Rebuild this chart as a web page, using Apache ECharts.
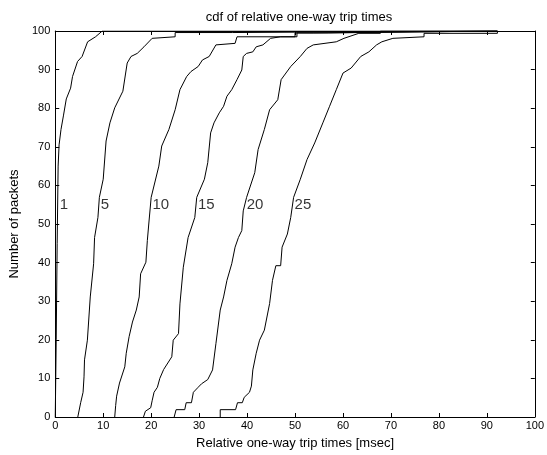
<!DOCTYPE html>
<html>
<head>
<meta charset="utf-8">
<script src="https://cdn.jsdelivr.net/npm/echarts@6/dist/echarts.min.js"></script>
<style>
  html, body { margin: 0; padding: 0; background: #fff; }
  #chart { width: 547px; height: 455px; }
</style>
</head>
<body>
<div id="chart"></div>
<script>
// 读图得到的各条 cdf 曲线 [时间 msec, 百分比]
const curve1 = [[0,0],[0.2,20],[0.4,45],[0.6,65],[0.8,70.5],[1.2,74.5],[1.7,78],[2.3,82.4],[3.2,85.2],[3.6,88.2],[4.65,92.1],[5.6,93.4],[6.75,97.2],[8.4,98.5],[9.8,100],[92.2,100]]
const curve5 = [[4.7,0],[5.3,3.7],[5.8,6.4],[6.0,10.4],[6.1,14.8],[6.7,19.9],[7.3,31.1],[8.0,39.7],[8.2,46.5],[8.9,51.7],[9.2,56.9],[10.0,61.6],[10.6,71.5],[11.4,76.2],[12.4,80.1],[14.1,84.4],[15.0,91.7],[15.8,93.4],[17.1,94.2],[18.5,95.9],[20.2,98.1],[20.5,98.5],[25,98.5],[25,99.6],[36.9,99.6],[36.9,100],[92.2,100]]
const curve10 = [[12.4,0],[12.6,3],[12.8,5.4],[13.4,8.8],[14.5,13.0],[14.8,16.5],[15.4,20.8],[16.1,24.6],[16.9,27.7],[17.5,31.1],[17.8,37.1],[18.9,40.1],[19.2,45.7],[19.5,50.0],[20.0,56.9],[21.6,65.0],[22.2,70.2],[23.7,74.5],[25.0,79.6],[26.0,84.8],[27.4,88.2],[28.3,89.5],[29.8,90.8],[30.7,92.5],[32.1,93.4],[33.5,96.4],[37.5,96.8],[37.9,98.5],[50.4,98.5],[50.4,99.5],[53.8,99.5],[53.8,100],[92.2,100]]
const curve15 = [[18.4,0],[18.8,1.5],[19.9,2.4],[20.2,4.2],[20.6,6.4],[21.3,7.7],[21.8,10],[22.6,12.3],[24.3,15.6],[24.6,19.9],[25.7,21.6],[26.0,29.3],[26.7,38.8],[27.7,46.5],[29.1,51.7],[29.5,56.9],[31.1,61.6],[31.8,65.9],[32.4,73.6],[33.1,76.2],[34.2,78.8],[35.1,80.5],[35.8,83.1],[36.8,84.8],[37.9,87.4],[38.9,89.9],[39.2,93.4],[39.9,94.2],[41.2,94.6],[41.9,95.9],[43.3,96.4],[44.9,98.1],[47.0,98.5],[50,98.5],[50,99.5],[56.9,99.5],[56.9,100],[92.2,100]]
const curve20 = [[24.8,0],[25.2,1.9],[27.0,1.9],[27.3,3.7],[28.4,3.7],[28.8,6.4],[29.8,7.7],[30.5,8.6],[31.8,9.7],[32.8,12.2],[33.5,19.0],[34.4,27.7],[35.1,31.1],[35.8,35.4],[36.8,39.7],[37.5,44.0],[38.2,46.5],[38.9,48.3],[39.2,53.4],[39.9,56.9],[41.6,63.3],[42.3,69.3],[43.6,74.5],[44.7,79.6],[46.4,82.2],[47.1,87.4],[49.1,90.8],[51.1,93.4],[52.5,95.5],[53.8,96.4],[58.6,97.2],[60.2,98.1],[63.3,99.4],[67.8,99.4],[67.8,100],[92.2,100]]
const curve25 = [[34.4,0],[34.4,1.9],[37.6,1.9],[38,3.7],[39,3.7],[39.4,5.1],[40.5,6.4],[40.9,8],[41.2,12.2],[41.9,16.5],[42.6,19.9],[43.6,22.5],[44.7,29.4],[45.3,35.4],[46.0,39.2],[47.0,39.2],[47.3,44.0],[48.4,47.4],[49.1,51.7],[49.7,56.9],[51.1,61.6],[52.5,66.7],[54.1,71.0],[55.8,76.2],[57.2,80.5],[58.6,84.8],[60.0,89.1],[61.7,90.4],[63.7,93.4],[65.4,94.6],[67,96.4],[68.1,97.2],[70.4,98.1],[76.9,98.5],[76.9,99.4],[92.2,99.4],[92.2,100]]

const curves = [curve1, curve5, curve10, curve15, curve20, curve25]
const curveNames = ['1', '5', '10', '15', '20', '25']
// 曲线旁边编号所在的百分比高度
const labelLevel = 55

// 在曲线上找到 labelLevel 对应的时间
function xAtLevel(pts, level) {
  for (let i = 1; i < pts.length; i++) {
    let a = pts[i - 1], b = pts[i]
    if (a[1] <= level && b[1] >= level && b[1] !== a[1]) {
      return a[0] + (b[0] - a[0]) * (level - a[1]) / (b[1] - a[1])
    }
  }
  return pts[0][0]
}

(function () {
  let myChart = echarts.init(document.getElementById('chart'))
  let font = 'Liberation Sans, Arial, sans-serif'

  let lineSeries = curves.map(function (pts, i) {
    return {
      name: curveNames[i],
      type: 'line',
      data: pts,
      showSymbol: false,
      silent: true,
      lineStyle: { color: '#000', width: 1 },
      z: 3
    }
  })

  // 编号文字
  let labelSeries = {
    type: 'scatter',
    symbolSize: 0,
    silent: true,
    data: curves.map(function (pts, i) {
      return [xAtLevel(pts, labelLevel), labelLevel, curveNames[i]]
    }),
    label: {
      show: true,
      position: 'right',
      distance: 2,
      color: '#000',
      fontSize: 15,
      fontFamily: font,
      formatter: function (p) { return p.data[2] }
    }
  }

  let tickStyle = { show: true, inside: true, length: 4, lineStyle: { color: '#000' } }
  let lineAxis = { show: true, onZero: false, lineStyle: { color: '#000', width: 1 } }

  let option = {
    animation: false,
    backgroundColor: '#fff',
    title: {
      text: 'cdf of relative one-way trip times',
      left: 294,
      top: 6,
      textAlign: 'center',
      textStyle: { fontSize: 13, fontWeight: 'normal', color: '#000', fontFamily: font }
    },
    grid: { left: 49, right: 7, top: 31, bottom: 34 },
    xAxis: [
      {
        type: 'value',
        min: 0, max: 100, interval: 10,
        name: 'Relative one-way trip times [msec]',
        nameLocation: 'middle',
        nameGap: 20,
        nameTextStyle: { fontSize: 13, color: '#000', fontFamily: font },
        axisLine: lineAxis,
        axisTick: tickStyle,
        splitLine: { show: false },
        axisLabel: { color: '#000', fontSize: 11, margin: 3, fontFamily: font }
      },
      {
        type: 'value',
        position: 'top',
        min: 0, max: 100, interval: 10,
        axisLine: lineAxis,
        axisTick: tickStyle,
        splitLine: { show: false },
        axisLabel: { show: false }
      }
    ],
    yAxis: [
      {
        type: 'value',
        min: 0, max: 100, interval: 10,
        name: 'Number of packets',
        nameLocation: 'middle',
        nameGap: 34,
        nameTextStyle: { fontSize: 13, color: '#000', fontFamily: font },
        axisLine: lineAxis,
        axisTick: tickStyle,
        splitLine: { show: false },
        axisLabel: { color: '#000', fontSize: 11, margin: 5, fontFamily: font }
      },
      {
        type: 'value',
        position: 'right',
        min: 0, max: 100, interval: 10,
        axisLine: lineAxis,
        axisTick: tickStyle,
        splitLine: { show: false },
        axisLabel: { show: false }
      }
    ],
    series: lineSeries.concat([labelSeries])
  }

  myChart.setOption(option)
})();
</script>
</body>
</html>
